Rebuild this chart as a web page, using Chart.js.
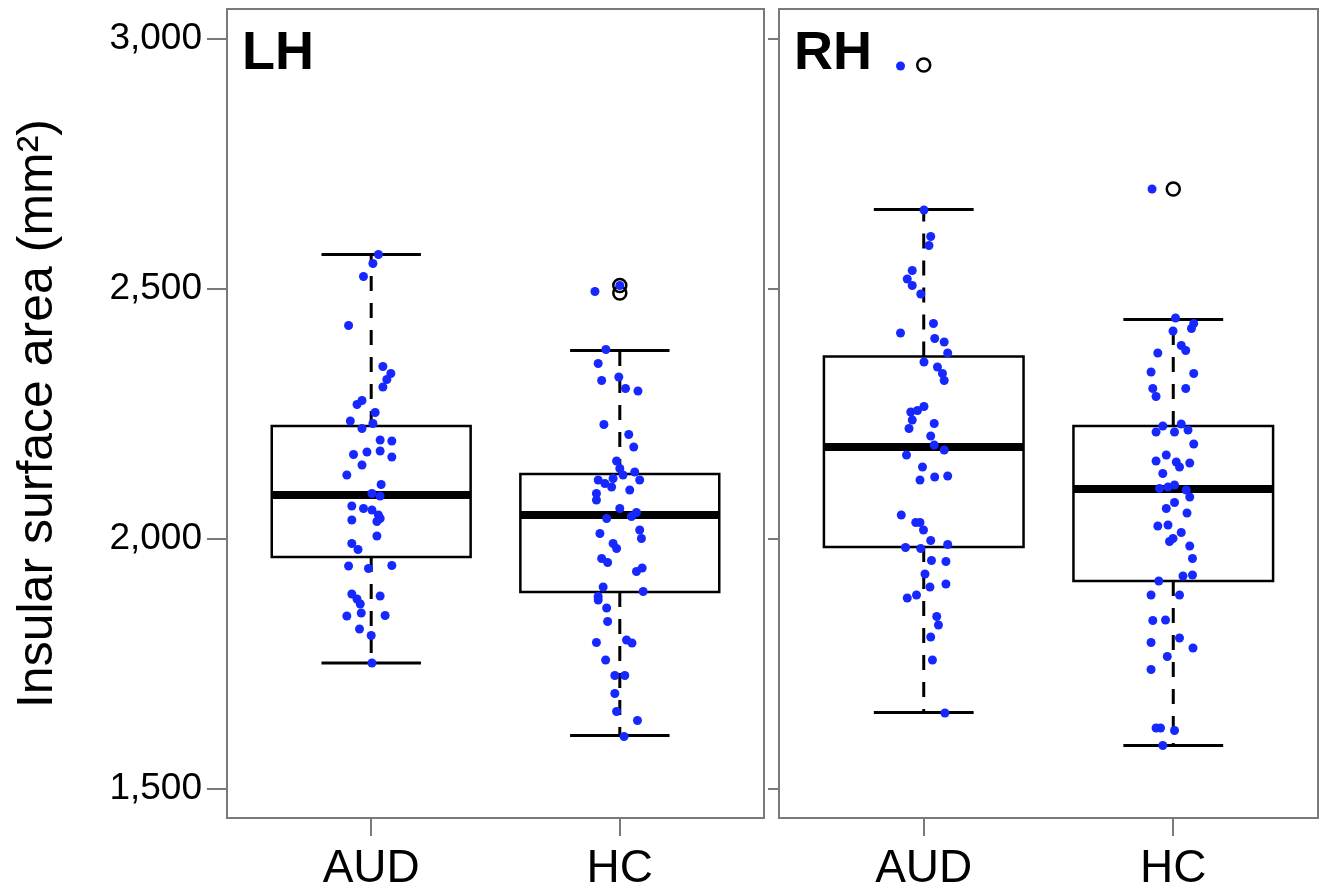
<!DOCTYPE html>
<html>
<head>
<meta charset="utf-8">
<script src="https://cdn.jsdelivr.net/npm/chart.js@4.4.0/dist/chart.umd.min.js"></script>
<style>
  html, body { margin: 0; padding: 0; background: #fff; }
  #lienzo { position: relative; width: 1327px; height: 896px; }
  #lienzo canvas { position: absolute; left: 0; top: 0; }
</style>
</head>
<body>
<div id="lienzo">
  <canvas id="graficoLH" width="1327" height="896"></canvas>
  <canvas id="graficoRH" width="1327" height="896"></canvas>
</div>
<script>
// === DATOS ===
const grupos = ['AUD', 'HC'];
const ticksY = [1500, 2000, 2500, 3000];
const rangoY = [1442, 3060];
const rangoX = [0.42, 2.58];

// LH - puntos (valor y desplazamiento horizontal)
const lhAudValores = [2569, 2551, 2525, 2427, 2345, 2331, 2319, 2304, 2277, 2269, 2253, 2236, 2231, 2221, 2198, 2196,
  2176, 2169, 2174, 2164, 2148, 2128, 2109, 2091, 2086, 2066, 2061, 2058, 2048, 2038, 2035, 2041,
  2006, 1991, 1979, 1946, 1941, 1947, 1890, 1880, 1870, 1886, 1846, 1852, 1847, 1820, 1807, 1752];
const lhAudJitter = [0.029, 0.007, -0.031, -0.091, 0.047, 0.079, 0.063, 0.047, -0.037, -0.057, 0.016, -0.084, 0.007, -0.037, 0.036, 0.083,
  0.036, -0.071, -0.017, 0.083, -0.037, -0.098, 0.040, 0.003, 0.036, -0.078, -0.031, 0.003, 0.029, -0.078, 0.023, 0.036,
  0.023, -0.078, -0.053, -0.091, -0.011, 0.083, -0.078, -0.057, -0.044, 0.036, -0.098, -0.040, 0.056, -0.047, 0, 0.003];
const lhHcValores = [2495, 2507, 2379, 2351, 2317, 2324, 2301, 2296, 2229, 2209, 2184, 2156, 2141, 2118, 2111, 2121,
  2128, 2134, 2118, 2091, 2104, 2098, 2078, 2061, 2041, 2045, 2053, 2011, 2018, 2001, 1991, 1981,
  1961, 1953, 1935, 1942, 1904, 1885, 1878, 1862, 1895, 1835, 1793, 1798, 1792, 1758, 1727, 1727,
  1691, 1655, 1637, 1605];
const lhHcJitter = [-0.100, 0, -0.056, -0.087, -0.073, -0.004, 0.023, 0.073, -0.064, 0.036, 0.056, -0.013, 0, -0.087, -0.060, -0.027,
  0.013, 0.060, 0.080, -0.094, -0.033, 0.040, -0.094, 0, -0.053, 0.047, 0.067, -0.080, 0.080, 0.087, -0.027, -0.013,
  -0.073, -0.049, 0.067, 0.090, -0.067, -0.087, -0.087, -0.053, 0.094, -0.049, -0.094, 0.027, 0.049, -0.057, -0.020, 0.020,
  -0.020, -0.013, 0.071, 0.017];

// LH - cajas (AUD, HC)
const lhBigoteSup = [2569, 2377];
const lhQ3 = [2226, 2130];
const lhMediana = [2088, 2048];
const lhQ1 = [1964, 1894];
const lhBigoteInf = [1752, 1607];
const lhAtipicos = [[], [2507, 2492]];

// RH - puntos
const rhAudValores = [2946, 2658, 2605, 2587, 2537, 2520, 2507, 2490, 2431, 2412, 2401, 2394, 2372, 2354, 2344, 2331,
  2317, 2254, 2257, 2265, 2238, 2221, 2231, 2206, 2188, 2178, 2168, 2144, 2118, 2124, 2126, 2048,
  2033, 2033, 2018, 1997, 1983, 1981, 1989, 1957, 1955, 1930, 1904, 1910, 1882, 1888, 1845, 1828,
  1804, 1758, 1652];
const rhAudJitter = [-0.093, 0.001, 0.028, 0.021, -0.046, -0.066, -0.046, -0.012, 0.039, -0.093, 0.044, 0.082, 0.096, 0.001, 0.055, 0.075,
  0.082, -0.052, -0.025, 0.001, -0.046, -0.059, 0.042, 0.028, 0.042, 0.082, -0.069, -0.005, -0.015, 0.044, 0.096, -0.090,
  -0.032, -0.015, -0.001, 0.028, -0.073, -0.012, 0.096, 0.031, 0.089, 0.005, 0.025, 0.089, -0.066, -0.029, 0.052, 0.059,
  0.028, 0.035, 0.085];
const rhHcValores = [2700, 2442, 2431, 2421, 2416, 2387, 2377, 2372, 2334, 2331, 2301, 2285, 2301, 2226, 2214, 2214,
  2230, 2218, 2190, 2168, 2156, 2154, 2152, 2144, 2131, 2101, 2104, 2108, 2098, 2084, 2061, 2073,
  2052, 2026, 2028, 2013, 1995, 2001, 1986, 1961, 1926, 1928, 1916, 1888, 1888, 1837, 1838, 1793,
  1802, 1782, 1765, 1739, 1622, 1622, 1617, 1587];
const rhHcJitter = [-0.085, 0.009, 0.082, 0.073, -0.001, 0.032, 0.050, -0.062, -0.089, 0.082, -0.082, -0.069, 0.050, -0.042, -0.069, 0.005,
  0.032, 0.059, 0.082, -0.028, -0.069, 0.012, 0.066, 0.025, -0.042, -0.055, -0.021, 0.005, 0.052, 0.066, -0.028, 0.005,
  0.055, -0.062, -0.021, 0.032, -0.015, -0.001, 0.066, 0.077, 0.039, 0.077, -0.058, -0.089, 0.025, -0.082, -0.031, -0.089,
  0.025, 0.079, -0.024, -0.089, -0.069, -0.051, 0.005, -0.042];

// RH - cajas
const rhBigoteSup = [2659, 2439];
const rhQ3 = [2365, 2226];
const rhMediana = [2184, 2100];
const rhQ1 = [1984, 1916];
const rhBigoteInf = [1653, 1587];
const rhAtipicos = [[2948], [2700]];

// === ESTILO ===
const FUENTE = "'Liberation Sans', Arial, Helvetica, sans-serif";
const AZUL = 'rgb(22, 40, 255)';
const GRIS = '#7a7a7a';
const MEDIA_CAJA = 0.4;
const MEDIO_TOPE = 0.2;

Chart.defaults.font.family = FUENTE;
Chart.defaults.color = '#000';

function linea(puntos, ancho, extra) {
  return Object.assign({
    data: puntos,
    showLine: true,
    borderColor: '#000',
    borderWidth: ancho,
    pointRadius: 0,
    fill: false,
    tension: 0,
    order: 5
  }, extra || {});
}

function construirDatasets(cajas, puntos) {
  const sets = [];
  grupos.forEach((g, i) => {
    const c = i + 1;
    const q1 = cajas.q1[i], q3 = cajas.q3[i], med = cajas.mediana[i];
    const sup = cajas.sup[i], inf = cajas.inf[i];

    // caja
    sets.push(linea([
      { x: c - MEDIA_CAJA, y: q1 }, { x: c + MEDIA_CAJA, y: q1 },
      { x: c + MEDIA_CAJA, y: q3 }, { x: c - MEDIA_CAJA, y: q3 },
      { x: c - MEDIA_CAJA, y: q1 }
    ], 2.5, { borderCapStyle: 'square', borderJoinStyle: 'miter' }));
    // mediana
    sets.push(linea([{ x: c - MEDIA_CAJA, y: med }, { x: c + MEDIA_CAJA, y: med }], 8, { borderCapStyle: 'butt' }));
    // bigotes punteados
    sets.push(linea([{ x: c, y: q3 }, { x: c, y: sup }], 3, { borderDash: [15, 12] }));
    sets.push(linea([{ x: c, y: q1 }, { x: c, y: inf }], 3, { borderDash: [15, 12] }));
    // topes
    sets.push(linea([{ x: c - MEDIO_TOPE, y: sup }, { x: c + MEDIO_TOPE, y: sup }], 3));
    sets.push(linea([{ x: c - MEDIO_TOPE, y: inf }, { x: c + MEDIO_TOPE, y: inf }], 3));

    // atipicos (circulos abiertos)
    sets.push({
      data: cajas.atipicos[i].map(v => ({ x: c, y: v })),
      pointRadius: 6.5,
      pointBorderWidth: 2.5,
      pointBorderColor: '#000',
      pointBackgroundColor: 'rgba(0,0,0,0)',
      order: 1
    });

    // puntos azules
    const p = puntos[i];
    sets.push({
      data: p.valores.map((v, k) => ({ x: c + p.jitter[k], y: v })),
      pointRadius: 4.5,
      pointBorderWidth: 0,
      pointBackgroundColor: AZUL,
      order: 0
    });
  });
  return sets;
}

// marco y etiqueta del panel
const marcoPanel = {
  id: 'marcoPanel',
  afterDatasetsDraw(chart, args, opts) {
    const { ctx, chartArea: a } = chart;
    ctx.save();
    ctx.strokeStyle = GRIS;
    ctx.lineWidth = 2;
    ctx.strokeRect(a.left, a.top, a.right - a.left, a.bottom - a.top);
    ctx.fillStyle = '#000';
    ctx.font = 'bold 54px ' + FUENTE;
    ctx.textBaseline = 'alphabetic';
    ctx.fillText(opts.texto, a.left + 15, a.top + 60);
    ctx.restore();
  }
};

// sin margen extra por las etiquetas de los extremos
function sinMargen(s) {
  s.paddingTop = 0;
  s.paddingBottom = 0;
  s.paddingLeft = 0;
  s.paddingRight = 0;
}

function opcionesEjes(conEtiquetasY, anchoY, largoTickY) {
  return {
    x: {
      type: 'linear',
      min: rangoX[0],
      max: rangoX[1],
      afterBuildTicks: s => { s.ticks = grupos.map((g, i) => ({ value: i + 1 })); },
      afterFit: s => { s.height = 78; sinMargen(s); },
      ticks: {
        callback: v => grupos[Math.round(v) - 1],
        font: { size: 46 },
        color: '#000',
        padding: 6,
        maxRotation: 0,
        autoSkip: false
      },
      grid: { drawOnChartArea: false, drawTicks: true, tickLength: 18, color: GRIS, lineWidth: 2 },
      border: { display: false }
    },
    y: {
      type: 'linear',
      min: rangoY[0],
      max: rangoY[1],
      afterBuildTicks: s => { s.ticks = ticksY.map(v => ({ value: v })); },
      afterFit: s => { s.width = anchoY; sinMargen(s); },
      ticks: {
        display: conEtiquetasY,
        callback: v => v.toLocaleString('en-US'),
        font: { size: 37 },
        color: '#000',
        padding: 5
      },
      grid: { drawOnChartArea: false, drawTicks: true, tickLength: largoTickY, color: GRIS, lineWidth: 2 },
      border: { display: false },
      title: {
        display: conEtiquetasY,
        text: 'Insular surface area (mm\u00B2)',
        font: { size: 50 },
        color: '#000',
        padding: { top: 8, bottom: 0 }
      }
    }
  };
}

function crearGrafico(canvasId, texto, cajas, puntos, padding, conEtiquetasY, anchoY, largoTickY) {
  return new Chart(document.getElementById(canvasId), {
    type: 'scatter',
    data: { datasets: construirDatasets(cajas, puntos) },
    options: {
      responsive: false,
      animation: false,
      events: [],
      layout: { padding: padding },
      scales: opcionesEjes(conEtiquetasY, anchoY, largoTickY),
      plugins: {
        legend: { display: false },
        tooltip: { enabled: false },
        marcoPanel: { texto: texto }
      }
    },
    plugins: [marcoPanel]
  });
}

crearGrafico('graficoLH', 'LH',
  { sup: lhBigoteSup, q3: lhQ3, mediana: lhMediana, q1: lhQ1, inf: lhBigoteInf, atipicos: lhAtipicos },
  [{ valores: lhAudValores, jitter: lhAudJitter }, { valores: lhHcValores, jitter: lhHcJitter }],
  { top: 8, right: 563, bottom: 0, left: 0 }, true, 227, 20);

crearGrafico('graficoRH', 'RH',
  { sup: rhBigoteSup, q3: rhQ3, mediana: rhMediana, q1: rhQ1, inf: rhBigoteInf, atipicos: rhAtipicos },
  [{ valores: rhAudValores, jitter: rhAudJitter }, { valores: rhHcValores, jitter: rhHcJitter }],
  { top: 8, right: 9, bottom: 0, left: 0 }, false, 779, 11);
</script>
</body>
</html>
